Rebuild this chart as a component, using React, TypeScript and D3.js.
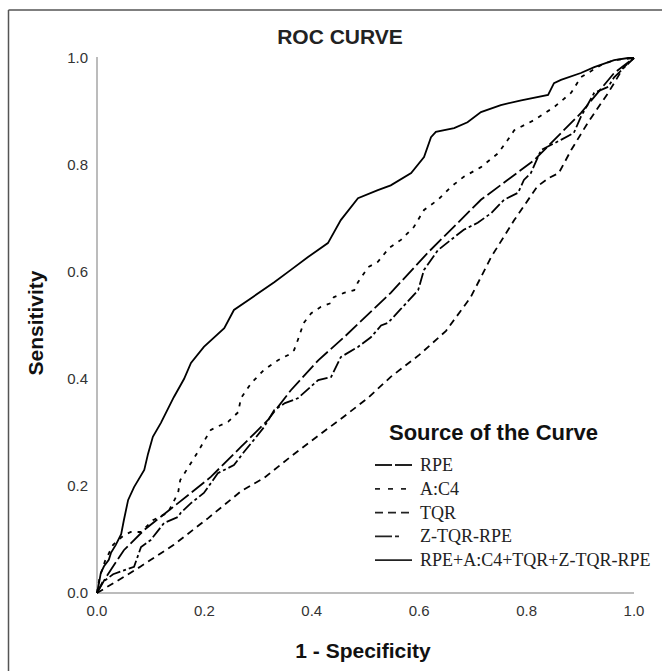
import React from "react";
import * as d3 from "d3";

// ROC points: [1 - specificity, sensitivity]
const rpe: [number, number][] = [
  [0, 0], [0.017, 0.03], [0.05, 0.08], [0.088, 0.118], [0.151, 0.168], [0.212, 0.217],
  [0.268, 0.273], [0.318, 0.323], [0.361, 0.379], [0.412, 0.435], [0.46, 0.478],
  [0.547, 0.561], [0.616, 0.636], [0.715, 0.735], [0.814, 0.809], [0.901, 0.897],
  [0.963, 0.972], [1, 1],
];

const ac4: [number, number][] = [
  [0, 0], [0.005, 0.03], [0.015, 0.06], [0.03, 0.09], [0.05, 0.108], [0.063, 0.114],
  [0.082, 0.114], [0.104, 0.136], [0.132, 0.15], [0.151, 0.187], [0.155, 0.211],
  [0.175, 0.243], [0.188, 0.264], [0.203, 0.29], [0.212, 0.305], [0.231, 0.314],
  [0.244, 0.32], [0.263, 0.338], [0.268, 0.364], [0.287, 0.392], [0.311, 0.417],
  [0.337, 0.435], [0.356, 0.445], [0.367, 0.454], [0.374, 0.473], [0.385, 0.505],
  [0.399, 0.523], [0.417, 0.535], [0.436, 0.542], [0.441, 0.553], [0.46, 0.561],
  [0.479, 0.566], [0.486, 0.581], [0.505, 0.609], [0.523, 0.619], [0.544, 0.645],
  [0.566, 0.66], [0.59, 0.684], [0.609, 0.716], [0.635, 0.735], [0.659, 0.759],
  [0.683, 0.778], [0.715, 0.796], [0.747, 0.822], [0.765, 0.847], [0.777, 0.865],
  [0.814, 0.884], [0.851, 0.908], [0.883, 0.935], [0.901, 0.964], [0.939, 0.987],
  [0.963, 0.996], [1, 1],
];

const tqr: [number, number][] = [
  [0, 0], [0.02, 0.012], [0.05, 0.03], [0.082, 0.05], [0.143, 0.09], [0.207, 0.14],
  [0.268, 0.19], [0.311, 0.215], [0.361, 0.255], [0.42, 0.3], [0.46, 0.33],
  [0.505, 0.365], [0.547, 0.404], [0.6, 0.445], [0.65, 0.49], [0.696, 0.553],
  [0.734, 0.628], [0.777, 0.697], [0.82, 0.76], [0.84, 0.775], [0.86, 0.785],
  [0.883, 0.828], [0.914, 0.879], [0.952, 0.935], [0.981, 0.983], [1, 1],
];

const ztqrRpe: [number, number][] = [
  [0, 0], [0.01, 0.02], [0.03, 0.035], [0.069, 0.049], [0.082, 0.086], [0.1, 0.099],
  [0.125, 0.131], [0.151, 0.142], [0.156, 0.15], [0.175, 0.168], [0.199, 0.187],
  [0.207, 0.198], [0.225, 0.224], [0.255, 0.239], [0.274, 0.264], [0.292, 0.286],
  [0.311, 0.31], [0.33, 0.342], [0.35, 0.355], [0.374, 0.364], [0.412, 0.398],
  [0.436, 0.404], [0.454, 0.441], [0.486, 0.46], [0.51, 0.478], [0.529, 0.5],
  [0.542, 0.505], [0.565, 0.53], [0.598, 0.566], [0.609, 0.604], [0.635, 0.641],
  [0.683, 0.679], [0.709, 0.692], [0.734, 0.71], [0.758, 0.735], [0.784, 0.748],
  [0.795, 0.772], [0.808, 0.785], [0.827, 0.828], [0.864, 0.847], [0.888, 0.86],
  [0.901, 0.89], [0.911, 0.908], [0.926, 0.935], [0.952, 0.946], [0.963, 0.964], [1, 1],
];

const combined: [number, number][] = [
  [0, 0], [0.004, 0.02], [0.007, 0.037], [0.013, 0.05], [0.022, 0.062], [0.026, 0.075],
  [0.035, 0.09], [0.045, 0.11], [0.05, 0.136], [0.058, 0.174], [0.069, 0.198],
  [0.088, 0.23], [0.095, 0.26], [0.104, 0.292], [0.119, 0.318], [0.143, 0.366],
  [0.162, 0.4], [0.175, 0.43], [0.199, 0.46], [0.237, 0.495], [0.255, 0.529],
  [0.287, 0.551], [0.33, 0.581], [0.361, 0.604], [0.393, 0.628], [0.43, 0.654],
  [0.454, 0.697], [0.486, 0.738], [0.523, 0.753], [0.547, 0.762], [0.585, 0.785],
  [0.609, 0.815], [0.622, 0.852], [0.631, 0.862], [0.665, 0.869], [0.69, 0.88],
  [0.715, 0.899], [0.752, 0.912], [0.79, 0.921], [0.84, 0.931], [0.851, 0.953],
  [0.864, 0.959], [0.901, 0.972], [0.926, 0.983], [0.963, 0.996], [0.989, 1], [1, 1],
];

const seriesNames = ["RPE", "A:C4", "TQR", "Z-TQR-RPE", "RPE+A:C4+TQR+Z-TQR-RPE"];
const seriesData = [rpe, ac4, tqr, ztqrRpe, combined];
const dashes = ["16,4", "4,6", "7,5", "12,3,3,3", "none"];
const legendDashes = ["17,3", "5,8", "8,5", "17,3,4,40", "none"];
const ticks = [0, 0.2, 0.4, 0.6, 0.8, 1.0];

export default function App() {
  const width = 662;
  const height = 671;

  const x = d3.scaleLinear().domain([0, 1]).range([97, 634]);
  const y = d3.scaleLinear().domain([0, 1]).range([593, 58]);

  const line = d3
    .line<[number, number]>()
    .x((d) => x(d[0]))
    .y((d) => y(d[1]));

  const sans = "'Liberation Sans', Arial, sans-serif";
  const serif = "'Liberation Serif', 'Times New Roman', serif";

  return (
    <svg
      width={width}
      height={height}
      style={{ position: "absolute", left: 0, top: 0, background: "#fff" }}
    >
      {/* frame */}
      <line x1={8.5} x2={width} y1={10} y2={10} stroke="#555" strokeWidth={1.5} />
      <line x1={8.5} x2={8.5} y1={10} y2={height} stroke="#555" strokeWidth={1.5} />

      <text x={340} y={44} textAnchor="middle" fontFamily={sans} fontWeight="bold" fontSize={21} fill="#222">
        ROC CURVE
      </text>

      {/* axes */}
      <line x1={x(0)} x2={x(0)} y1={y(0)} y2={y(1) - 1} stroke="#a6a6a6" strokeWidth={1.5} />
      <line x1={x(0)} x2={x(1)} y1={y(0)} y2={y(0)} stroke="#a6a6a6" strokeWidth={1.5} />

      {ticks.map((t) => (
        <text key={"y" + t} x={88} y={y(t)} dy="0.35em" textAnchor="end" fontFamily={sans} fontSize={15} fill="#333">
          {t.toFixed(1)}
        </text>
      ))}
      {ticks.map((t) => (
        <text key={"x" + t} x={x(t)} y={616} textAnchor="middle" fontFamily={sans} fontSize={15} fill="#333">
          {t.toFixed(1)}
        </text>
      ))}

      <text x={363} y={658} textAnchor="middle" fontFamily={sans} fontWeight="bold" fontSize={21} fill="#111">
        1 - Specificity
      </text>
      <text
        transform="translate(43,323) rotate(-90)"
        textAnchor="middle"
        fontFamily={sans}
        fontWeight="bold"
        fontSize={21}
        fill="#111"
      >
        Sensitivity
      </text>

      {/* curves */}
      {seriesData.map((d, i) => (
        <path
          key={seriesNames[i]}
          d={line(d) || ""}
          fill="none"
          stroke="#000"
          strokeWidth={1.8}
          strokeDasharray={dashes[i]}
        />
      ))}

      {/* legend */}
      <text x={389} y={440} fontFamily={sans} fontWeight="bold" fontSize={22} fill="#111">
        Source of the Curve
      </text>
      {seriesNames.map((name, i) => {
        const cy = 465 + i * 23.8;
        return (
          <g key={"leg" + name}>
            <line x1={375} x2={412} y1={cy} y2={cy} stroke="#222" strokeWidth={1.8} strokeDasharray={legendDashes[i]} />
            <text x={420} y={cy + 6} fontFamily={serif} fontSize={18} fill="#222">
              {name}
            </text>
          </g>
        );
      })}
    </svg>
  );
}
